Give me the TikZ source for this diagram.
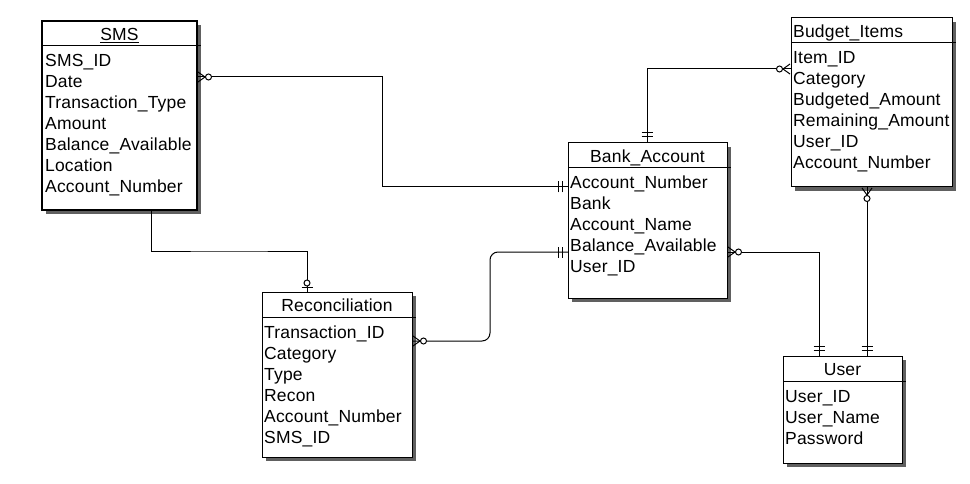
\documentclass[tikz,border=0pt]{standalone}
\usepackage{fontspec}
\setmainfont{Liberation Sans}[LetterSpace=1]
\usetikzlibrary{calc,shadows}
\definecolor{shadowgray}{RGB}{96,96,96}
\tikzset{
  ent/.style={draw, fill=white, line width=1pt, inner sep=0pt, outer sep=0pt, anchor=north west,
    general shadow={fill=shadowgray, shadow xshift=4pt, shadow yshift=-4pt}},
  attr/.style={inner sep=0pt, anchor=base west, font=\fontsize{17.5}{21}\selectfont},
  hdr/.style={inner sep=0pt, anchor=base, font=\fontsize{17.5}{21}\selectfont},
  conn/.style={line width=1pt},
  divider/.style={line width=1pt},
  manyopt/.pic={
    \draw[conn] (1,-5) -- (8,0) -- (1,5);
    \draw[conn, fill=white] (11.5,0) circle (3pt);
  },
  onemand/.pic={
    \draw[conn] (6,-5.5) -- (6,5.5) (10,-5.5) -- (10,5.5);
  },
  zeroone/.pic={
    \draw[conn] (5,-5.5) -- (5,5.5);
    \draw[conn, fill=white] (9,0) circle (3pt);
  }
}
\begin{document}
\begin{tikzpicture}[x=1pt,y=-1pt]
\useasboundingbox (0,0) rectangle (970,484);

% entities
\node[ent, line width=2pt, minimum width=155pt, minimum height=189pt] (sms) at (42,21) {};
\node[ent, minimum width=159pt, minimum height=155pt] (bank) at (568,143) {};
\node[ent, minimum width=161pt, minimum height=169pt] (bud) at (791,18) {};
\node[ent, minimum width=150pt, minimum height=165pt] (rec) at (262,292) {};
\node[ent, minimum width=119pt, minimum height=107pt] (user) at (783,356) {};

% header dividers
\foreach \e in {sms,bank,bud,rec,user}
  \draw[divider] ($(\e.north west)+(0,25)$) -- ($(\e.north east)+(4,25)$);

% headers
\node[hdr] (sms-h) at (119.5,40.5) {\underline{SMS}};
\node[hdr] (bank-h) at (647.5,162.5) {Bank\_Account};
\node[hdr, anchor=base west] (bud-h) at (793,37.5) {Budget\_Items};
\node[hdr] (rec-h) at (337,311.5) {Reconciliation};
\node[hdr] (user-h) at (842.5,375.5) {User};

% attributes
\foreach \t [count=\i] in {SMS\_ID,Date,Transaction\_Type,Amount,Balance\_Available,Location,Account\_Number}
  \node[attr] (sms-r\i) at (45,{66.5+21*(\i-1)}) {\t};
\foreach \t [count=\i] in {Account\_Number,Bank,Account\_Name,Balance\_Available,User\_ID}
  \node[attr] (bank-r\i) at (570,{188.5+21*(\i-1)}) {\t};
\foreach \t [count=\i] in {Item\_ID,Category,Budgeted\_Amount,Remaining\_Amount,User\_ID,Account\_Number}
  \node[attr] (bud-r\i) at (793,{63.5+21*(\i-1)}) {\t};
\foreach \t [count=\i] in {Transaction\_ID,Category,Type,Recon,Account\_Number,SMS\_ID}
  \node[attr] (rec-r\i) at (264,{338.5+21*(\i-1)}) {\t};
\foreach \t [count=\i] in {User\_ID,User\_Name,Password}
  \node[attr] (user-r\i) at (785,{402.5+21*(\i-1)}) {\t};

% connection points on entity edges
\coordinate (sms-e) at ($(sms.north east)+(0,56)$);
\coordinate (sms-s) at ($(sms.south west)+(109,0)$);
\coordinate (bank-w) at ($(bank.north west)+(0,44)$);
\coordinate (bank-w2) at ($(bank.north west)+(0,109)$);
\coordinate (bank-e) at ($(bank.north east)+(0,109)$);
\coordinate (bank-n) at ($(bank.north west)+(79,0)$);
\coordinate (rec-n) at ($(rec.north west)+(45,0)$);
\coordinate (rec-e) at ($(rec.north east)+(0,49)$);
\coordinate (bud-w) at ($(bud.north west)+(0,51)$);
\coordinate (bud-s) at ($(bud.south west)+(76,0)$);
\coordinate (user-n1) at ($(user.north west)+(36,0)$);
\coordinate (user-n2) at ($(user.north west)+(84,0)$);

% connectors
\draw[conn] (sms-e) -| ($(sms-e)!0.5!(bank-w)$) |- (bank-w);
\draw[conn] (sms-s) |- ($(sms-s)!0.5!(rec-n)$) -| (rec-n);
\draw[conn, rounded corners=8pt] (rec-e) -| ($(rec-e)!0.5!(bank-w2)$) |- (bank-w2);
\draw[conn] (bank-e) -| (user-n1);
\draw[conn] (bank-n) |- (bud-w);
\draw[conn] (bud-s) -- (user-n2);

% cardinality symbols
\pic at (sms-e) {manyopt};
\pic at (rec-e) {manyopt};
\pic at (bank-e) {manyopt};
\pic[rotate=180] at (bud-w) {manyopt};
\pic[rotate=-90] at (bud-s) {manyopt};
\pic[rotate=180] at (bank-w) {onemand};
\pic[rotate=180] at (bank-w2) {onemand};
\pic[rotate=90] at (bank-n) {onemand};
\pic[rotate=90] at (user-n1) {onemand};
\pic[rotate=90] at (user-n2) {onemand};
\pic[rotate=90] at (rec-n) {zeroone};
\end{tikzpicture}
\end{document}
